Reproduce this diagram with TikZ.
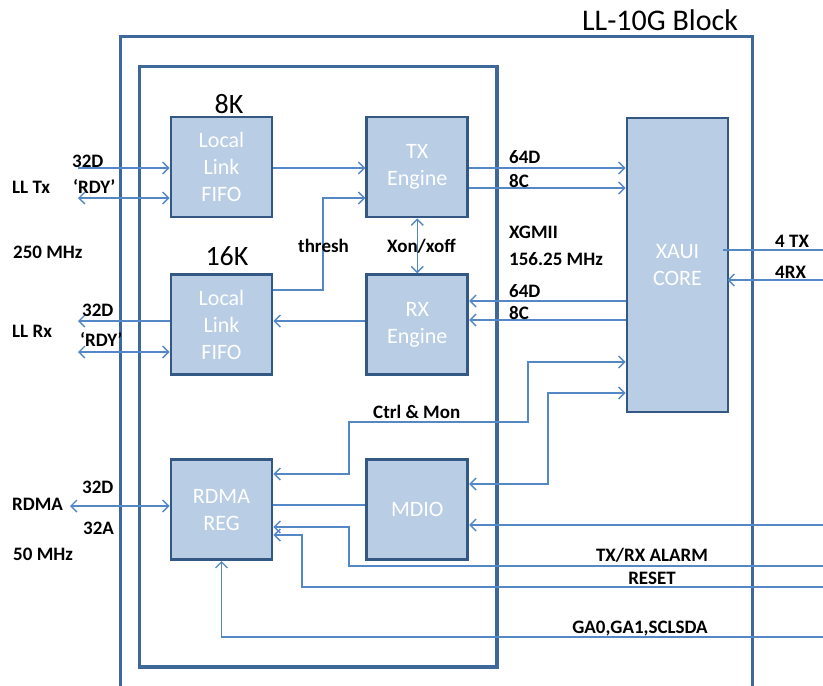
\documentclass[tikz,border=0pt]{standalone}
\usepackage{fontspec}
\setmainfont{Carlito}
\usetikzlibrary{arrows.meta,positioning,calc}
\definecolor{LLFill} {RGB}{185,205,229}
\definecolor{LLEdge} {RGB}{52, 88, 132}
\definecolor{LLFrame}{RGB}{62,104,154}
\definecolor{LLWire} {RGB}{84,135,198}

\begin{document}
\begin{tikzpicture}[
  x=1pt, y=-1pt,
  node distance = 55pt and 92pt,
  blk/.style   = {draw=LLEdge, fill=LLFill, line width=2.8pt,
                  minimum width=101pt, minimum height=100pt,
                  align=center, text=white,
                  font=\fontsize{22}{27}\selectfont},
  blockframe/.style = {draw=LLFrame, line width=3pt},
  lbl/.style   = {anchor=base west, inner sep=0pt,
                  font=\bfseries\fontsize{19}{22}\selectfont},
  sizelbl/.style = {anchor=base, inner sep=0pt,
                  font=\fontsize{28}{30}\selectfont},
  sig/.style   = {draw=LLWire, line width=1.4pt},
  sigto/.style = {sig, -{Straight Barb[length=6pt,width=12pt]}},
  sigboth/.style = {sig, {Straight Barb[length=6pt,width=12pt]}-{Straight Barb[length=6pt,width=12pt]}}
]
\useasboundingbox (0,0) rectangle (823,686);
% frames
\draw[blockframe] (120,36) rectangle (752,720);
\draw[blockframe, line width=3.3pt] (139.5,66.5) rectangle (497,667);
\node[sizelbl, font=\fontsize{30}{32}\selectfont] (title) at (660,30) {LL-10G Block};
% blocks
\node[blk] (fifoA) at (221.5,167) {Local\\Link\\FIFO};
\node[blk, right=of fifoA] (txeng) {TX\\Engine};
\node[blk, below=of fifoA] (fifoB) {Local\\Link\\FIFO};
\node[blk, below=of txeng] (rxeng) {RX\\Engine};
\node[blk, below=82pt of fifoB] (rdma) {RDMA\\REG};
\node[blk, right=of rdma] (mdio) {MDIO};
\node[blk, minimum height=294pt] (xaui) at (677.5,265) {XAUI\\CORE};
\node[sizelbl] (kA) at (229,113) {8K};
\node[sizelbl] (kB) at (227,265) {16K};
% outside ends
\coordinate (llTxD) at (78,168);
\coordinate (llTxR) at (78,198);
\coordinate (llRxD) at (78,321);
\coordinate (llRxR) at (78,352);
\coordinate (rdmaBus) at (70,506);
\coordinate (xauiTx) at (823,250);
\coordinate (xauiRx) at (823,280);
\coordinate (mdioIn) at (823,525);
\coordinate (alarmIn) at (823,566);
\coordinate (resetIn) at (823,587);
\coordinate (gaIn) at (823,637);
% local link side
\draw[sigto] (llTxD) -- (fifoA.west |- llTxD);
\draw[sigboth] (llTxR) -- (fifoA.west |- llTxR);
\draw[sigto] (fifoB.west |- llRxD) -- (llRxD);
\draw[sigboth] (llRxR) -- (fifoB.west |- llRxR);
\draw[sigto] (fifoA.east |- llTxD) -- (txeng.west |- llTxD);
\draw[sigto] (fifoB.east |- 0,290) -| (323,198) -- (txeng.west |- 0,198);
\draw[sigto] (rxeng.west |- llRxD) -- (fifoB.east |- llRxD);
\draw[sigboth] (txeng) -- (rxeng);
% xgmii
\draw[sigto] (txeng.east |- llTxD) -- (xaui.west |- llTxD);
\draw[sigto] (txeng.east |- 0,188) -- (xaui.west |- 0,188);
\draw[sigto] (xaui.west |- 0,301) -- (rxeng.east |- 0,301);
\draw[sigto] (xaui.west |- 0,320) -- (rxeng.east |- 0,320);
\draw[sig] (xauiTx) -- ($(xaui.east |- xauiTx)+(-6,0)$);
\draw[sigto] (xauiRx) -- ($(xaui.east |- xauiRx)+(-2,0)$);
% control
\draw[sigboth] (rdma.east |- 0,474) -| (349,422) -| (528,362) -- (xaui.west |- 0,362);
\draw[sigboth] (mdio.east |- 0,484) -| (548,393) -- (xaui.west |- 0,393);
\draw[sig] (rdma.east |- 0,505) -- (mdio.west |- 0,505);
\draw[sigto] (mdioIn) -- (mdio.east |- mdioIn);
\draw[sigto] (alarmIn) -| (349,527) -- (rdma.east |- 0,527);
\draw[sigto] (resetIn) -| (302,535) -- (rdma.east |- 0,535);
\draw[sigto] (gaIn) -| (rdma.south);
\draw[sigboth] (rdmaBus) -- (rdma.west |- rdmaBus);
% labels
\node[lbl] (lTxD) at (72,167) {32D};
\node[lbl] (lTx) at (12,193) {LL Tx};
\node[lbl] (lTxR) at (73,193) {‘RDY’};
\node[lbl] (lClkA) at (13,258) {250 MHz};
\node[lbl] (lRxD) at (82,316) {32D};
\node[lbl] (lRx) at (12,337) {LL Rx};
\node[lbl] (lRxR) at (80,346) {‘RDY’};
\node[lbl] (lThr) at (298,252) {thresh};
\node[lbl] (lXon) at (387,252) {Xon/xoff};
\node[lbl] (lTxW) at (509,163) {64D};
\node[lbl] (lTxC) at (509,187) {8C};
\node[lbl] (lXg) at (509,238) {XGMII};
\node[lbl] (lXgClk) at (509,265) {156.25 MHz};
\node[lbl] (lRxW) at (509,297) {64D};
\node[lbl] (lRxC) at (509,319) {8C};
\node[lbl] (l4Tx) at (775,247) {4 TX};
\node[lbl] (l4Rx) at (775,278) {4RX};
\node[lbl] (lCtl) at (373,418) {Ctrl \& Mon};
\node[lbl] (lRd) at (12,510) {RDMA};
\node[lbl] (lRdD) at (82,493) {32D};
\node[lbl] (lRdA) at (83,534) {32A};
\node[lbl] (lClkB) at (13,560) {50 MHz};
\node[lbl, anchor=base] (lAl) at (652,561) {TX/RX ALARM};
\node[lbl, anchor=base] (lRs) at (652,584) {RESET};
\node[lbl, anchor=base] (lGa) at (640,633) {GA0,GA1,SCLSDA};
\end{tikzpicture}
\end{document}
